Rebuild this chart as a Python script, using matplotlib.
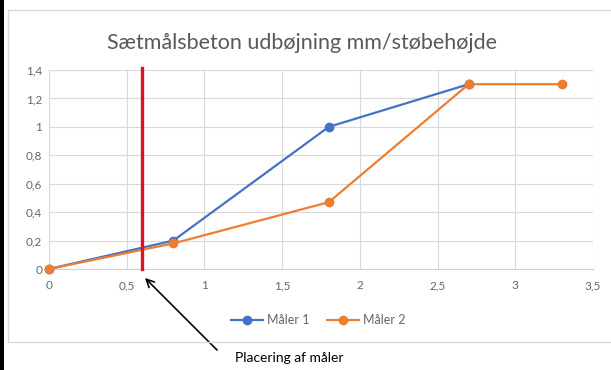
import matplotlib
matplotlib.use("Agg")
import matplotlib.pyplot as plt
from matplotlib.patches import Rectangle
from matplotlib.ticker import FuncFormatter, MultipleLocator

# Measurements: deflection (mm) against casting height
x_maaler1 = [0, 0.8, 1.8, 2.7]
y_maaler1 = [0, 0.2, 1.0, 1.3]
x_maaler2 = [0, 0.8, 1.8, 2.7, 3.3]
y_maaler2 = [0, 0.18, 0.47, 1.3, 1.3]
gauge_position = 0.6

title = "Sætmålsbeton udbøjning mm/støbehøjde"
series_labels = ["Måler 1", "Måler 2"]
note = "Placering af måler"

plt.rcParams['font.family'] = ['Lato', 'DejaVu Sans']

W, H = 611, 370
fig = plt.figure(figsize=(W / 100, H / 100), dpi=100)
fig.patch.set_facecolor("white")

# Chart frame and the dark left edge
fig.add_artist(Rectangle((8 / W, 1 - 342 / H), (W - 6) / W, (342 - 10) / H,
                         transform=fig.transFigure, fill=False,
                         edgecolor="#d9d9d9", linewidth=1.0))
fig.add_artist(Rectangle((0, 0), 4 / W, 1, transform=fig.transFigure,
                         facecolor="black", edgecolor="none"))

ax = fig.add_axes([49 / W, 1 - 269 / H, (593 - 49) / W, (269 - 70) / H])
ax.set_xlim(0, 3.5)
ax.set_ylim(0, 1.4)
ax.xaxis.set_major_locator(MultipleLocator(0.5))
ax.yaxis.set_major_locator(MultipleLocator(0.2))

def comma(v, pos):
    s = f"{v:.1f}".rstrip("0").rstrip(".")
    return s.replace(".", ",")

ax.xaxis.set_major_formatter(FuncFormatter(comma))
ax.yaxis.set_major_formatter(FuncFormatter(comma))
ax.grid(True, color="#d9d9d9", linewidth=0.8)
ax.set_axisbelow(True)
for side in ["top", "right", "left"]:
    ax.spines[side].set_visible(False)
ax.spines["bottom"].set_color("#d0d0d0")
ax.tick_params(length=0, labelsize=8.5, labelcolor="#666666")
ax.tick_params(axis="y", pad=5)
ax.tick_params(axis="x", pad=8)

blue = "#4472C4"
orange = "#ED7D31"
ax.plot(x_maaler1, y_maaler1, color=blue, linewidth=1.6, marker="o",
        markersize=6, label=series_labels[0], zorder=3, clip_on=False)
ax.plot(x_maaler2, y_maaler2, color=orange, linewidth=1.6, marker="o",
        markersize=6, label=series_labels[1], zorder=4, clip_on=False)
ax.axvline(gauge_position, ymin=0, ymax=1.01, color="#e0101e",
           linewidth=2.4, zorder=5, clip_on=False)

fig.text(302 / W, 1 - 43 / H, title, fontsize=15.5, color="#595959",
         ha="center", va="center")

leg = fig.legend(loc="center", bbox_to_anchor=(318 / W, 1 - 320 / H), ncol=2,
                 frameon=False, fontsize=9, labelcolor="#666666",
                 handlelength=2.6, columnspacing=1.4, handletextpad=0.3)

# Arrow pointing at the gauge position
ax.annotate("", xy=(143 / W, 1 - 276 / H), xycoords="figure fraction",
            xytext=(219 / W, 1 - 352 / H), textcoords="figure fraction",
            arrowprops=dict(arrowstyle="->", color="black", lw=1.2,
                            mutation_scale=14))
fig.text(235 / W, 1 - 358 / H, note, fontsize=10, color="black",
         ha="left", va="center")

fig.savefig("out.png", dpi=100)
